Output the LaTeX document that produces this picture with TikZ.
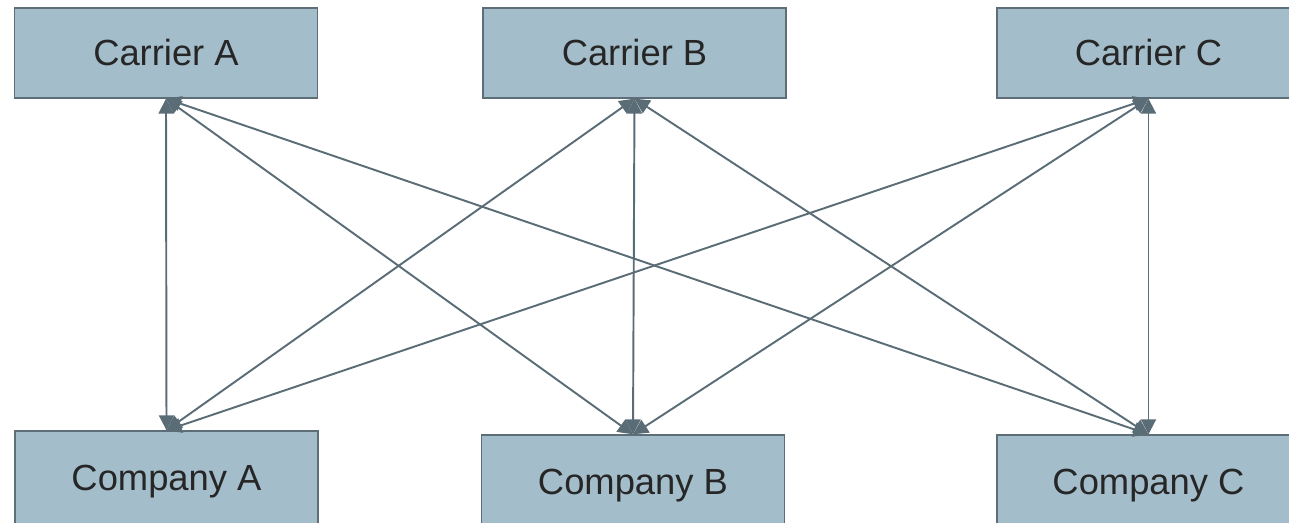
\documentclass[tikz,border=0pt]{standalone}
\usepackage{fontspec}
\setmainfont{Liberation Sans}
\usepackage{xcolor}
\usetikzlibrary{arrows.meta}
\definecolor{boxfill}{HTML}{A3BDCA}
\definecolor{boxline}{HTML}{5E6E78}
\definecolor{linkcol}{HTML}{5A6D77}
\tikzset{
  party/.style={draw=boxline, fill=boxfill, line width=0.8pt, minimum width=6.06cm, minimum height=1.8cm, inner sep=0pt, font=\fontsize{20.7}{24}\selectfont, text=black!85},
  company/.style={party, minimum height=2.04cm},
  link/.style={draw=linkcol, line width=1.1pt, {Triangle[length=0.3cm,width=0.3cm]}-{Triangle[length=0.3cm,width=0.3cm]}}
}

\begin{document}
\begin{tikzpicture}[x=0.02cm,y=-0.02cm]
                \useasboundingbox (0,0) rectangle (1289,523);
                \clip (0,0) rectangle (1289,523);
                % carriers
                \node[party] (ca) at (166,53) {Carrier A};
                \node[party] (cb) at (634.5,53) {Carrier B};
                \node[party] (cc) at (1148.5,53) {Carrier C};
                % companies
                \node[company] (pa) at (166.5,482) {Company A};
                \node[company] (pb) at (633,486) {Company B};
                \node[company] (pc) at (1148.5,486) {Company C};
                \foreach \c in {ca,cb,cc}
                    \foreach \p in {pa,pb,pc}
                        \draw[link] (\c.south) -- (\p.north);
            \end{tikzpicture}
\end{document}
